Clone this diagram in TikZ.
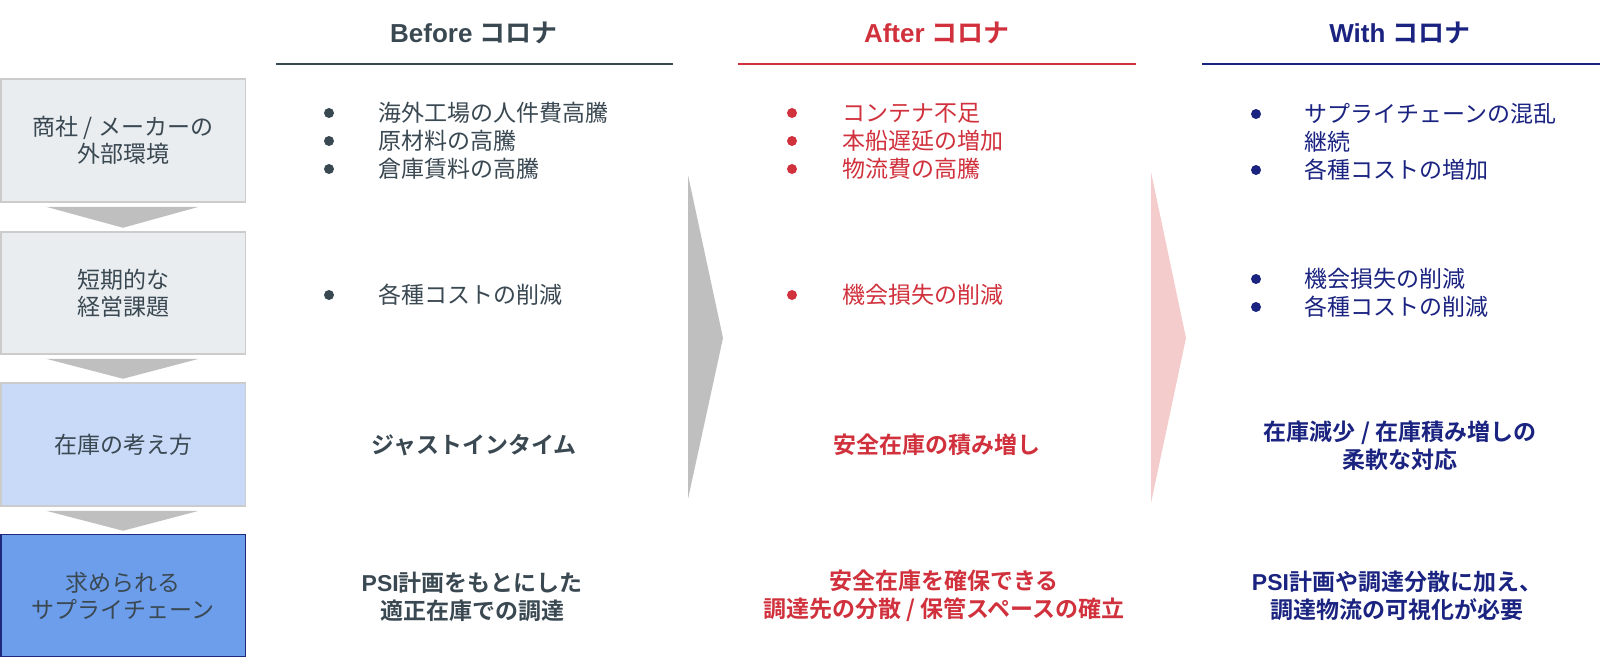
\documentclass[tikz,border=0pt]{standalone}
\usepackage{fontspec}
\setmainfont{Noto Sans CJK JP}[BoldFont={Noto Sans CJK JP Bold}]
\newfontfamily\lat{Liberation Sans}
\usetikzlibrary{calc}
\definecolor{slate}{HTML}{3A4852}
\definecolor{cred}{HTML}{D0313C}
\definecolor{navy}{HTML}{1A2380}
\definecolor{boxgray}{HTML}{E9EDF0}
\definecolor{boxbd}{HTML}{CCCCCC}
\definecolor{lblue}{HTML}{C9DAF8}
\definecolor{mblue}{HTML}{6D9EEB}
\definecolor{bdnavy}{HTML}{1F2A7C}
\definecolor{agray}{HTML}{BFBFBF}
\definecolor{apink}{HTML}{F4CCCC}
\tikzset{
  lbox/.style={draw=boxbd, line width=1.5pt, minimum width=244.5pt, inner sep=0pt,
    align=center, text=slate, font=\fontsize{23}{27}\selectfont},
  hdr/.style={inner sep=0pt, font=\bfseries\fontsize{26}{30}\selectfont},
  item/.style={anchor=west, inner sep=0pt, align=left, font=\fontsize{23}{28}\selectfont},
  btxt/.style={inner sep=0pt, align=center, font=\bfseries\fontsize{23}{28}\selectfont},
  dot/.style={circle, fill, inner sep=0pt, minimum size=10pt},
  rule/.style={line width=2pt},
  downarr/.style={fill=agray},
}
\begin{document}
\begin{tikzpicture}[x=1pt,y=-1pt]
\useasboundingbox (0,0) rectangle (1600,658);
% left boxes
\node[lbox, fill=boxgray, minimum height=123pt] (b1) at (123,140.5) {商社 / メーカーの\\外部環境};
\node[lbox, fill=boxgray, minimum height=122pt] (b2) at (123,293) {短期的な\\経営課題};
\node[lbox, fill=lblue, minimum height=123pt] (b3) at (123,444.5) {在庫の考え方};
\node[lbox, fill=mblue, draw=bdnavy, minimum height=122pt] (b4) at (123,595.5) {求められる\\サプライチェーン};
% down arrows between boxes
\fill[downarr] ($(b1.south west)+(46,4)$) -- ($(b1.south west)+(199,4)$) -- ($(b1.south)+(0,25)$) -- cycle;
\fill[downarr] ($(b2.south west)+(46,4)$) -- ($(b2.south west)+(199,4)$) -- ($(b2.south)+(0,24)$) -- cycle;
\fill[downarr] ($(b3.south west)+(46,4)$) -- ($(b3.south west)+(199,4)$) -- ($(b3.south)+(0,24)$) -- cycle;
% headers
\node[hdr, text=slate] (hb) at (474,33) {{\lat Before }コロナ};
\node[hdr, text=cred] (ha) at (937,33) {{\lat After }コロナ};
\node[hdr, text=navy] (hw) at (1400,33) {{\lat With }コロナ};
\draw[rule, slate] (276,64) -- (673,64);
\draw[rule, cred] (738,64) -- (1136,64);
\draw[rule, navy] (1202,64) -- (1600,64);
% big chevrons
\fill[agray] (688,175) -- (723,338) -- (688,499) -- cycle;
\fill[apink] (1151,172) -- (1186,338) -- (1151,503) -- cycle;
% Before column
\node[dot, slate] (bd1) at (329,113) {};
\node[dot, slate] (bd2) at (329,141) {};
\node[dot, slate] (bd3) at (329,169) {};
\node[item, text=slate] (bi1) at (378,113) {海外工場の人件費高騰};
\node[item, text=slate] (bi2) at (378,141) {原材料の高騰};
\node[item, text=slate] (bi3) at (378,169) {倉庫賃料の高騰};
\node[dot, slate] (bd4) at (329,295) {};
\node[item, text=slate] (bi4) at (378,295) {各種コストの削減};
\node[btxt, text=slate] (bt3) at (474,445) {ジャストインタイム};
\node[btxt, text=slate] (bt4) at (472,597) {{\lat PSI}計画をもとにした\\適正在庫での調達};
% After column
\node[dot, cred] (ad1) at (792,113) {};
\node[dot, cred] (ad2) at (792,141) {};
\node[dot, cred] (ad3) at (792,169) {};
\node[item, text=cred] (ai1) at (842,113) {コンテナ不足};
\node[item, text=cred] (ai2) at (842,141) {本船遅延の増加};
\node[item, text=cred] (ai3) at (842,169) {物流費の高騰};
\node[dot, cred] (ad4) at (792,295) {};
\node[item, text=cred] (ai4) at (842,295) {機会損失の削減};
\node[btxt, text=cred] (at3) at (937,445) {安全在庫の積み増し};
\node[btxt, text=cred] (at4) at (944,596) {安全在庫を確保できる\\調達先の分散 / 保管スペースの確立};
% With column
\node[dot, navy] (wd1) at (1256,114) {};
\node[dot, navy] (wd2) at (1256,170) {};
\node[item, text=navy] (wi1) at (1304,128) {サプライチェーンの混乱\\継続};
\node[item, text=navy] (wi2) at (1304,170) {各種コストの増加};
\node[dot, navy] (wd3) at (1256,279) {};
\node[dot, navy] (wd4) at (1256,307) {};
\node[item, text=navy] (wi3) at (1304,279) {機会損失の削減};
\node[item, text=navy] (wi4) at (1304,307) {各種コストの削減};
\node[btxt, text=navy] (wt3) at (1400,446) {在庫減少 / 在庫積み増しの\\柔軟な対応};
\node[btxt, text=navy] (wt4) at (1397,596) {{\lat PSI}計画や調達分散に加え、\\調達物流の可視化が必要};
\end{tikzpicture}
\end{document}
